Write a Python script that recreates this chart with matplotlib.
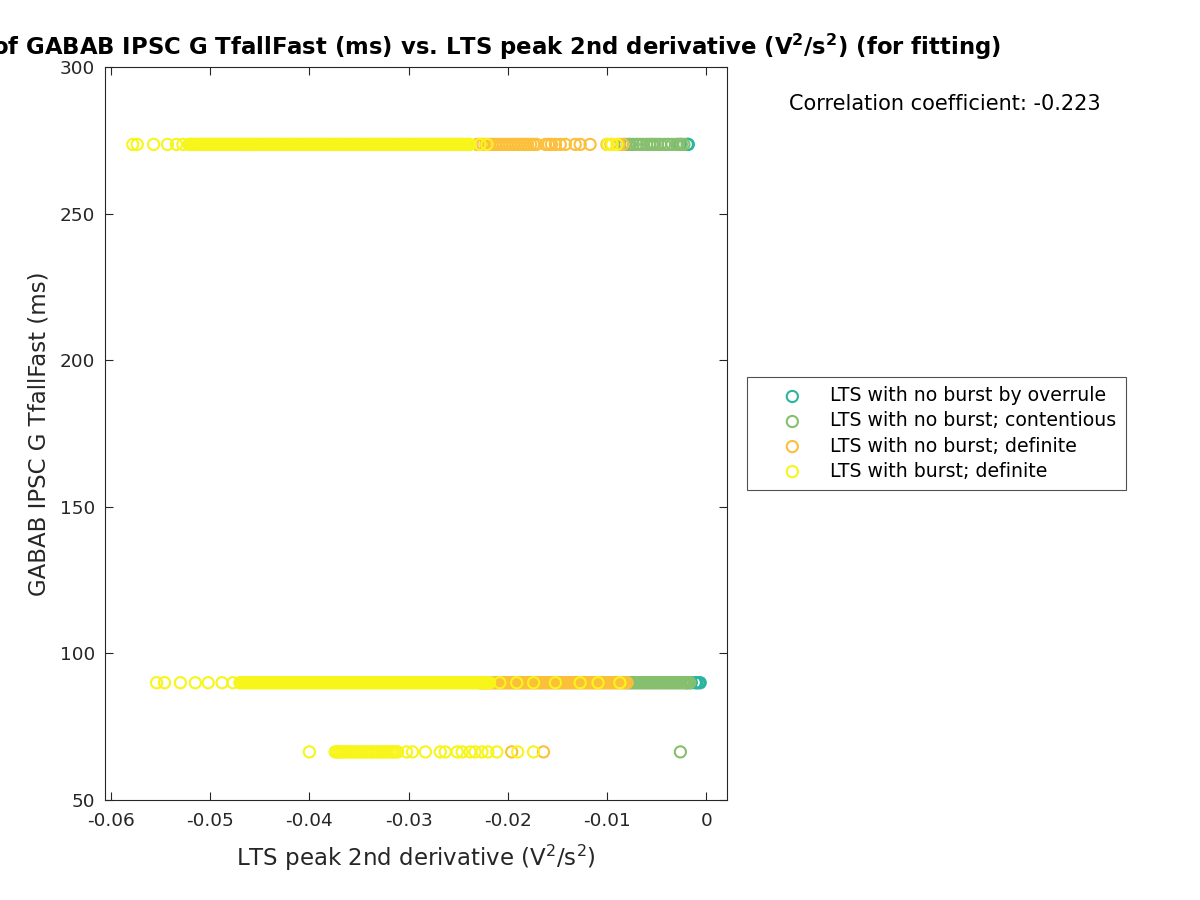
import matplotlib
matplotlib.use("Agg")
import matplotlib.pyplot as plt

# ---- data; x values in units of 1e-5 V^2/s^2 ----
y_high = 273.6
y_mid = 90.0
y_low = 66.4

teal_x_high = [-260, -190, -180]
teal_x_mid = [-190, -150, -110, -95, -75, -60]
teal_x_low = []

green_x_high = [-820, -790, -765, -735, -700, -670, -640, -600, -570, -545, -520,
                -490, -460, -420, -385, -345, -300, -280, -250, -225]
green_x_mid = [-790, -772, -755, -736, -719, -701, -682, -665, -647, -630, -611, -594,
               -576, -557, -540, -522, -505, -486, -469, -451, -432, -415, -397, -380,
               -361, -344, -326, -307, -290, -272, -255, -236, -219, -201, -182, -165]
green_x_low = [-260]

orange_x_high = [-2310, -2280, -2250, -2220, -2190, -2160, -2130, -2100, -2070, -2040,
                 -2010, -1980, -1950, -1920, -1890, -1860, -1830, -1800, -1770, -1740,
                 -1710, -1620, -1590, -1560, -1520, -1470, -1420, -1320, -1270, -1170,
                 -1000, -960, -880, -840]
orange_x_mid = [-2280, -2262, -2245, -2226, -2209, -2191, -2172, -2155, -2137, -2120,
                -2101, -2084, -2066, -2047, -2030, -2012, -1995, -1976, -1959, -1941,
                -1922, -1905, -1887, -1870, -1851, -1834, -1816, -1797, -1780, -1762,
                -1745, -1726, -1709, -1691, -1672, -1655, -1637, -1620, -1601, -1584,
                -1566, -1547, -1530, -1512, -1495, -1476, -1459, -1441, -1422, -1405,
                -1387, -1370, -1351, -1334, -1316, -1297, -1280, -1262, -1245, -1226,
                -1209, -1191, -1172, -1155, -1137, -1120, -1101, -1084, -1066, -1047,
                -1030, -1012, -995, -976, -959, -941, -922, -905, -887, -870,
                -851, -834, -816, -797]
orange_x_low = [-1960, -1640]

yellow_x_high = [-5780, -5735, -5570, -5430, -5340, -5275, -5215,
                 -5200, -5183, -5165, -5146, -5129, -5111, -5092, -5075, -5057, -5040,
                 -5021, -5004, -4986, -4967, -4950, -4932, -4915, -4896, -4879, -4861,
                 -4842, -4825, -4807, -4790, -4771, -4754, -4736, -4717, -4700, -4682,
                 -4665, -4646, -4629, -4611, -4592, -4575, -4557, -4540, -4521, -4504,
                 -4486, -4467, -4450, -4432, -4415, -4396, -4379, -4361, -4342, -4325,
                 -4307, -4290, -4271, -4254, -4236, -4217, -4200, -4182, -4165, -4146,
                 -4129, -4111, -4092, -4075, -4057, -4040, -4021, -4004, -3986, -3967,
                 -3950, -3932, -3915, -3896, -3879, -3861, -3842, -3825, -3807, -3790,
                 -3771, -3754, -3736, -3717, -3700, -3682, -3665, -3646, -3629, -3611,
                 -3592, -3575, -3557, -3540, -3521, -3504, -3486, -3467, -3450, -3432,
                 -3415, -3396, -3379, -3361, -3342, -3325, -3307, -3290, -3271, -3254,
                 -3236, -3217, -3200, -3182, -3165, -3146, -3129, -3111, -3092, -3075,
                 -3057, -3040, -3021, -3004, -2986, -2967, -2950, -2932, -2915, -2896,
                 -2879, -2861, -2842, -2825, -2807, -2790, -2771, -2754, -2736, -2717,
                 -2700, -2682, -2665, -2646, -2629, -2611, -2592, -2575, -2557, -2540,
                 -2521, -2504, -2486, -2467, -2450, -2432, -2415, -2396, -2380,
                 -2280, -2210, -990, -950, -900]
yellow_x_mid = [-5540, -5460, -5300, -5150, -5020, -4880, -4770,
                -4700, -4683, -4665, -4646, -4629, -4611, -4592, -4575, -4557, -4540,
                -4521, -4504, -4486, -4467, -4450, -4432, -4415, -4396, -4379, -4361,
                -4342, -4325, -4307, -4290, -4271, -4254, -4236, -4217, -4200, -4182,
                -4165, -4146, -4129, -4111, -4092, -4075, -4057, -4040, -4021, -4004,
                -3986, -3967, -3950, -3932, -3915, -3896, -3879, -3861, -3842, -3825,
                -3807, -3790, -3771, -3754, -3736, -3717, -3700, -3682, -3665, -3646,
                -3629, -3611, -3592, -3575, -3557, -3540, -3521, -3504, -3486, -3467,
                -3450, -3432, -3415, -3396, -3379, -3361, -3342, -3325, -3307, -3290,
                -3271, -3254, -3236, -3217, -3200, -3182, -3165, -3146, -3129, -3111,
                -3092, -3075, -3057, -3040, -3021, -3004, -2986, -2967, -2950, -2932,
                -2915, -2896, -2879, -2861, -2842, -2825, -2807, -2790, -2771, -2754,
                -2736, -2717, -2700, -2682, -2665, -2646, -2629, -2611, -2592, -2575,
                -2557, -2540, -2521, -2504, -2486, -2467, -2450, -2432, -2415, -2396,
                -2380, -2362, -2345, -2326, -2309, -2291, -2272, -2255, -2237, -2220,
                -2201, -2184,
                -2080, -1910, -1740, -1520, -1270, -1090, -870]
yellow_x_low = [-4000,
                -3740, -3720, -3700, -3680, -3660, -3640, -3615, -3590, -3570, -3545,
                -3520, -3500, -3475, -3450, -3430, -3405, -3380, -3360, -3335, -3310,
                -3290, -3265, -3240, -3220, -3195, -3170, -3150, -3125, -3110,
                -3020, -2960, -2830, -2680, -2630, -2510, -2460, -2380, -2330, -2260,
                -2200, -2110, -1900, -1740]

labels = ["LTS with no burst by overrule", "LTS with no burst; contentious",
          "LTS with no burst; definite", "LTS with burst; definite"]
colors = ["#2bb59f", "#86bf6d", "#fcbf3a", "#f7f519"]

groups = [
    (teal_x_high, teal_x_mid, teal_x_low),
    (green_x_high, green_x_mid, green_x_low),
    (orange_x_high, orange_x_mid, orange_x_low),
    (yellow_x_high, yellow_x_mid, yellow_x_low),
]
x_unit = 1e-5

xticks = [-0.06, -0.05, -0.04, -0.03, -0.02, -0.01, 0]
xticklabels = ["-0.06", "-0.05", "-0.04", "-0.03", "-0.02", "-0.01", "0"]
yticks = [50, 100, 150, 200, 250, 300]
corr_text = "Correlation coefficient: -0.223"

# ---- plot ----
plt.rcParams['font.family'] = ['DejaVu Sans']
fig = plt.figure(figsize=(12, 9), dpi=100)
ax = fig.add_axes([105/1200, 1 - 800/900, 622/1200, 733/900])

for (xh, xm, xl), c, lab in zip(groups, colors, labels):
    xs = [v * x_unit for v in list(xh) + list(xm) + list(xl)]
    ys = [y_high]*len(xh) + [y_mid]*len(xm) + [y_low]*len(xl)
    ax.scatter(xs, ys, s=65, facecolors='none', edgecolors=c, linewidths=1.5, label=lab)

ax.set_xlim(-0.0606, 0.0021)
ax.set_ylim(50, 300)
ax.set_xticks(xticks)
ax.set_xticklabels(xticklabels)
ax.set_yticks(yticks)
grey = '#262626'
ax.tick_params(direction='in', top=True, right=True, length=6, width=0.8,
               labelsize=13.3, colors=grey, labelcolor=grey)
ax.tick_params(axis='x', pad=9)
ax.tick_params(axis='y', pad=7)
for sp in ax.spines.values():
    sp.set_color(grey)
    sp.set_linewidth(0.8)

ax.set_xlabel("LTS peak 2nd derivative (V$^2$/s$^2$)", fontsize=16.5, color=grey,
              labelpad=9)
ax.set_ylabel("GABAB IPSC G TfallFast (ms)", fontsize=16.5, color=grey, labelpad=7)
ax.set_title("Scatter plot of GABAB IPSC G TfallFast (ms) vs. LTS peak 2nd derivative "
             "(V$^\\mathbf{2}$/s$^\\mathbf{2}$) (for fitting)",
             fontsize=16.4, fontweight='bold', pad=9)

fig.text(945/1200, 1 - 104/900, corr_text, ha='center', va='center', fontsize=15)

leg = ax.legend(loc='center left', bbox_to_anchor=(747/1200, 1 - 433.5/900),
                bbox_transform=fig.transFigure, fontsize=13.6, frameon=True,
                fancybox=False, edgecolor=grey, borderpad=0.5, labelspacing=0.32,
                handlelength=3.8, handletextpad=0.1, borderaxespad=0)
leg.get_frame().set_linewidth(0.8)

fig.savefig("out.png", dpi=100)
